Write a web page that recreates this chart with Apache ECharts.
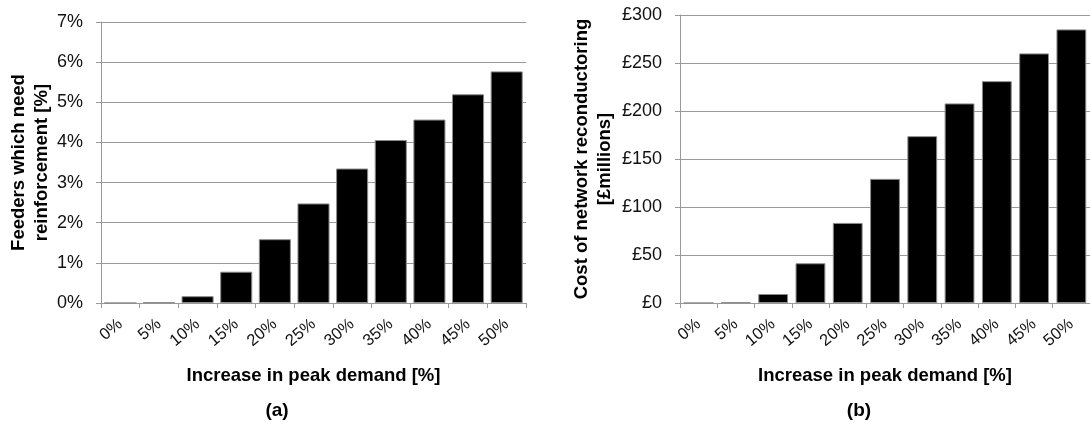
<!DOCTYPE html>
<html>
<head>
<meta charset="utf-8">
<script src="https://cdn.jsdelivr.net/npm/echarts@6/dist/echarts.min.js"></script>
<style>
  html, body { margin: 0; padding: 0; background: #fff; }
  #chart { width: 1090px; height: 425px; }
</style>
</head>
<body>
<div id="chart"></div>
<script>
const categories = ['0%', '5%', '10%', '15%', '20%', '25%', '30%', '35%', '40%', '45%', '50%'];
const feedersPct = [0, 0.02, 0.17, 0.78, 1.59, 2.48, 3.35, 4.06, 4.57, 5.20, 5.77];
const costMillions = [0, 0.8, 9.4, 41.4, 83.4, 129.3, 173.8, 207.9, 231.1, 260, 285];
const leftTicks = { min: 0, max: 7, interval: 1 };
const rightTicks = { min: 0, max: 300, interval: 50 };

const FONT = '"Liberation Sans", Arial, sans-serif';
const GRID_GRAY = '#999999';

function xAxisCfg(gridIndex) {
  return {
    type: 'category', gridIndex, data: categories,
    axisLine: { lineStyle: { color: GRID_GRAY, width: 1 } },
    axisTick: { show: true, length: 5, lineStyle: { color: GRID_GRAY } },
    axisLabel: { rotate: 40, fontSize: 16.5, color: '#111', fontFamily: FONT, margin: 19, interval: 0 },
    name: 'Increase in peak demand [%]',
    nameLocation: 'middle', nameGap: 63,
    nameTextStyle: { fontSize: 18.5, fontWeight: 'bold', color: '#000', fontFamily: FONT }
  };
}
function yAxisCfg(gridIndex, t, fmt, name, gap) {
  return {
    type: 'value', gridIndex, min: t.min, max: t.max, interval: t.interval,
    axisLine: { show: true, lineStyle: { color: GRID_GRAY, width: 1 } },
    axisTick: { show: true, length: 5, lineStyle: { color: GRID_GRAY } },
    splitLine: { show: true, lineStyle: { color: GRID_GRAY, width: 1 } },
    axisLabel: { formatter: fmt, fontSize: 18, color: '#111', fontFamily: FONT, margin: 18 },
    name, nameLocation: 'middle', nameRotate: 90, nameGap: gap,
    nameTextStyle: { fontSize: 18.5, fontWeight: 'bold', color: '#000', fontFamily: FONT, lineHeight: 23 }
  };
}

const chart = echarts.init(document.getElementById('chart'), null, { renderer: 'canvas' });
chart.setOption({
  animation: false,
  backgroundColor: '#fff',
  title: [
    { text: '(a)', left: 272, top: 396, textAlign: 'center',
      textStyle: { fontSize: 19, fontWeight: 'bold', color: '#000', fontFamily: FONT } },
    { text: '(b)', left: 854, top: 396, textAlign: 'center',
      textStyle: { fontSize: 19, fontWeight: 'bold', color: '#000', fontFamily: FONT } }
  ],
  grid: [
    { left: 101, top: 22, width: 425, height: 281 },
    { left: 680, top: 15, width: 411, height: 288 }
  ],
  xAxis: [xAxisCfg(0), xAxisCfg(1)],
  yAxis: [
    yAxisCfg(0, leftTicks, '{value}%', 'Feeders which need\nreinforcement [%]', 48),
    yAxisCfg(1, rightTicks, '£{value}', 'Cost of network reconductoring\n[£millions]', 64)
  ],
  series: [
    { type: 'bar', xAxisIndex: 0, yAxisIndex: 0, data: feedersPct, barCategoryGap: '17%',
      itemStyle: { color: '#000', borderColor: '#8c8c8c', borderWidth: 1 } },
    { type: 'bar', xAxisIndex: 1, yAxisIndex: 1, data: costMillions, barCategoryGap: '20%',
      itemStyle: { color: '#000', borderColor: '#8c8c8c', borderWidth: 1 } }
  ]
});
</script>
</body>
</html>
